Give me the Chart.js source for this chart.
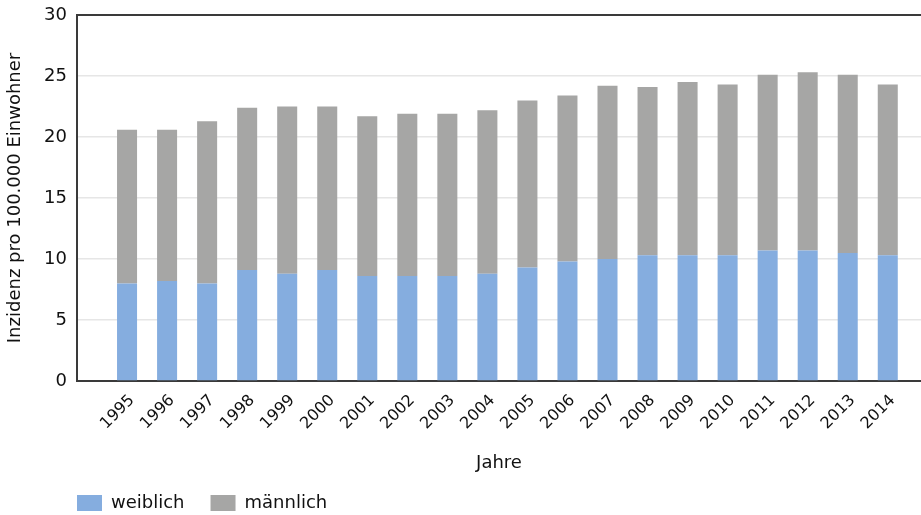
<!DOCTYPE html>
<html><head><meta charset="utf-8">
<script src="https://cdn.jsdelivr.net/npm/chart.js@4.4.0/dist/chart.umd.min.js"></script>
<style>html,body{margin:0;padding:0;background:#fff}#wrap{width:921px;height:515px;position:relative}</style>
</head><body><div id="wrap"><canvas id="c"></canvas></div>
<script>
const years = ['1995','1996','1997','1998','1999','2000','2001','2002','2003','2004','2005','2006','2007','2008','2009','2010','2011','2012','2013','2014'];
const weiblich = [8.0,8.2,8.0,9.1,8.8,9.1,8.6,8.6,8.6,8.8,9.3,9.8,10.0,10.3,10.3,10.3,10.7,10.7,10.5,10.3];
const maennlich = [12.6,12.4,13.3,13.3,13.7,13.4,13.1,13.3,13.3,13.4,13.7,13.6,14.2,13.8,14.2,14.0,14.4,14.6,14.6,14.0];
const yTicks = [0,5,10,15,20,25,30];
const seriesNames = ['weiblich','männlich'];
const yTitle = 'Inzidenz pro 100.000 Einwohner';
const xTitle = 'Jahre';

const FONT = 'DejaVu Sans';
const TXT = '#111111';

const legendShift = {
  id: 'legendShift',
  afterLayout(chart) {
    const lg = chart.legend;
    const pad = lg.options.labels.padding;
    const dx = chart.chartArea.left - (lg.left + pad);
    lg.left += dx; lg.right += dx;
    const dy = 495 - (lg.top + pad + 1);
    lg.top += dy; lg.bottom += dy;
  }
};

new Chart(document.getElementById('c'), {
  type: 'bar',
  data: {
    datasets: [
      { label: seriesNames[0], data: weiblich.map((v,i)=>({x:i,y:v})), backgroundColor: '#85ADDF', stack: 's' },
      { label: seriesNames[1], data: maennlich.map((v,i)=>({x:i,y:v})), backgroundColor: '#A6A6A5', stack: 's' }
    ]
  },
  options: {
    responsive: true,
    maintainAspectRatio: false,
    animation: false,
    barPercentage: 0.5,
    categoryPercentage: 1.0,
    layout: { padding: { top: 0, right: 0, bottom: 0, left: 4 } },
    plugins: {
      tooltip: { enabled: false },
      legend: {
        position: 'bottom',
        align: 'start',
        maxHeight: 44,
        labels: {
          boxWidth: 25, boxHeight: 16, padding: 26,
          color: TXT,
          font: { family: FONT, size: 18 }
        }
      }
    },
    scales: {
      x: {
        type: 'linear',
        stacked: true,
        min: -1.25,
        max: 19.83,
        offset: false,
        afterBuildTicks: s => { s.ticks = years.map((_, i) => ({ value: i })); },
        afterFit: s => { s.height = 515 - 381 - s.chart.legend.height; },
        grid: { display: false, drawTicks: false },
        border: { display: true, color: '#3a3a3a', width: 2 },
        ticks: {
          autoSkip: false, minRotation: 45, maxRotation: 45, padding: 10, labelOffset: 5,
          color: TXT, font: { family: FONT, size: 16 },
          callback: v => years[v]
        },
        title: { display: true, text: xTitle, color: TXT, font: { family: FONT, size: 18 }, padding: { top: 0, bottom: -3 } }
      },
      y: {
        stacked: true,
        min: 0, max: 30,
        afterBuildTicks: s => { s.ticks = yTicks.map(v => ({ value: v })); },
        afterFit: s => { s.width = 73; s.paddingTop = 15; },
        grid: {
          drawTicks: false,
          color: c => c.tick && c.tick.value === 30 ? '#3a3a3a' : '#e6e6e6',
          lineWidth: c => c.tick && c.tick.value === 30 ? 2 : 1.5
        },
        border: { display: true, color: '#3a3a3a', width: 2 },
        ticks: { padding: 10, color: TXT, font: { family: FONT, size: 18 } },
        title: { display: true, text: yTitle, color: TXT, font: { family: FONT, size: 18 }, padding: { top: 1, bottom: 0 } }
      }
    }
  },
  plugins: [legendShift]
});
</script>
</body></html>
